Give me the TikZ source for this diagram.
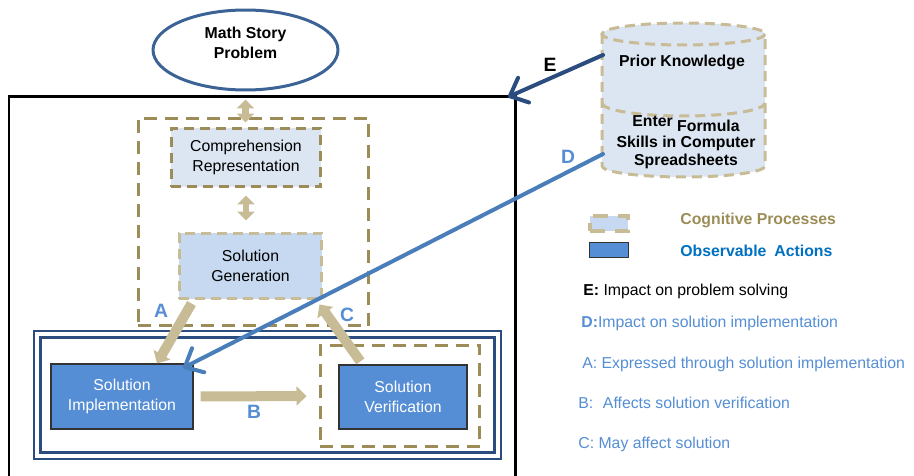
\documentclass[tikz,border=0pt]{standalone}
\usepackage{fontspec}
\setmainfont{Liberation Sans}
\usetikzlibrary{shapes.geometric,arrows.meta}
\definecolor{tanDark}{HTML}{9C8D58}
\definecolor{tanLight}{HTML}{C8BC96}
\definecolor{paleBlue}{HTML}{DCE6F2}
\definecolor{genBlue}{HTML}{C6D9F1}
\definecolor{actBlue}{HTML}{558ED5}
\definecolor{navy}{HTML}{2B4C7E}
\definecolor{storyBlue}{HTML}{3C6396}
\definecolor{lineBlue}{HTML}{4A7EBB}
\definecolor{obsBlue}{HTML}{0070C0}

\begin{document}
\begin{tikzpicture}
[x=0.02cm,y=-0.02cm,
 font=\fontsize{9}{11.3}\selectfont,
 cogbox/.style={rectangle,draw=tanDark,line width=0.6mm,dash pattern=on 2.6mm off 1.6mm,inner sep=0pt},
 cogfill/.style={rectangle,fill=paleBlue,draw=tanDark,line width=0.6mm,dash pattern=on 2mm off 1.2mm,inner sep=0pt,align=center},
 genfill/.style={rectangle,fill=genBlue,draw=tanLight,line width=0.6mm,dash pattern=on 2mm off 1.2mm,inner sep=0pt,align=center},
 action/.style={rectangle,fill=actBlue,draw=black!80,line width=0.25mm,text=white,inner sep=0pt,align=center},
 cyl line/.style={draw=tanLight,line width=0.6mm,dash pattern=on 2mm off 1.2mm},
 tan arrow/.style={draw=tanLight,line width=2mm,-{Triangle[length=2mm,width=3.8mm]}},
 tan double/.style={draw=tanLight,line width=1.3mm,{Triangle[length=1.8mm,width=3.4mm]}-{Triangle[length=1.8mm,width=3.4mm]}},
 barb arrow/.style={line width=0.8mm,line cap=round,-{Straight Barb[length=3mm,width=5.4mm,round]}},
 letter/.style={font=\fontsize{11}{13}\selectfont\bfseries,text=actBlue},
 legend/.style={anchor=west,inner sep=0pt,text=actBlue}]
\useasboundingbox (0,0) rectangle (914,476);
\node[ellipse,draw=storyBlue,line width=0.6mm,minimum width=3.7cm,minimum height=1.6cm] (story) at (245.5,50) {};
\node[align=center,font=\fontsize{9}{11.3}\selectfont\bfseries] (storytxt) at (245.5,42.5) {Math Story\\Problem};
\draw[line width=0.6mm] (9,490) -- (9,97) -- (515,97) -- (515,490);
\node[cogbox,minimum width=4.62cm,minimum height=4.16cm] (cog) at (253.5,222) {};
\node[cogfill,minimum width=3cm,minimum height=1.18cm] (comp) at (246,157.5) {Comprehension\\Representation};
\node[genfill,minimum width=2.86cm,minimum height=1.32cm] (gen) at (250.5,266) {Solution\\Generation};
\node[rectangle,draw=navy,line width=0.45mm,double=white,double distance=0.9mm,
      minimum width=9.22cm,minimum height=2.44cm] (act) at (267.5,395) {};
\node[cogbox,minimum width=3.2cm,minimum height=2.04cm] (verbox) at (400,396) {};
\node[action,minimum width=2.84cm,minimum height=1.3cm] (impl) at (122,396.5) {Solution\\Implementation};
\node[action,minimum width=2.56cm,minimum height=1.28cm] (verif) at (403,397) {Solution\\Verification};
\path[fill=paleBlue] (602,34) -- (602,166) arc[start angle=180,end angle=0,x radius=81.5,y radius=11]
      -- (765,34) arc[start angle=0,end angle=-180,x radius=81.5,y radius=11] -- cycle;
\draw[cyl line] (602,34) -- (602,166) arc[start angle=180,end angle=0,x radius=81.5,y radius=11] -- (765,34);
\draw[cyl line] (683.5,34) ellipse[x radius=81.5,y radius=11];
\draw[cyl line] (602,103) arc[start angle=180,end angle=0,x radius=81.5,y radius=13];
\node[font=\fontsize{9}{11.3}\selectfont\bfseries] (prior) at (682,62) {Prior Knowledge};
\node[font=\fontsize{9}{10}\selectfont\bfseries,align=center] (skills) at (686,142)
      {Enter \smash{\raisebox{-3pt}{Formula}}\\[2pt]Skills in Computer\\Spreadsheets};
\coordinate (kE) at (603,55);
\coordinate (kD) at (603,154);
\coordinate (frameE) at (508,97);
\coordinate (implD) at (183,368);
\path (story.south) edge[tan double,shorten <=1.6mm,shorten >=-1.2mm] (story.south |- cog.north)
      (comp.south)  edge[tan double,shorten <=1.4mm,shorten >=2.2mm] (comp.south |- gen.north)
      ([xshift=2.8mm,yshift=-0.6mm]gen.south west) edge[tan arrow] ([xshift=7mm]impl.north)
      ([xshift=4.4mm,yshift=0.6mm]verif.north west) edge[tan arrow] ([xshift=-0.8mm,yshift=-0.8mm]gen.south east)
      (impl.east)   edge[tan arrow,shorten <=1.4mm,shorten >=2.4mm] (verbox.west)
      (kE)          edge[barb arrow,draw=navy] (frameE)
      (kD)          edge[barb arrow,draw=lineBlue] (implD);
\node[letter] (la) at (161,311) {A};
\node[letter] (lb) at (254,412) {B};
\node[letter] (lc) at (347,315) {C};
\node[letter] (ld) at (568,157) {D};
\node[letter,text=black] (le) at (550,65) {E};
\node[rectangle,fill=genBlue,draw=tanLight,line width=0.8mm,dash pattern=on 3mm off 2mm,
      minimum width=0.78cm,minimum height=0.3cm] (cogkey) at (609,224) {};
\node[action,minimum width=0.78cm,minimum height=0.3cm] (obskey) at (609,250) {};
\node[legend,text=tanDark,font=\fontsize{9}{11.3}\selectfont\bfseries] (cogtxt) at (680,220) {Cognitive Processes};
\node[legend,text=obsBlue,font=\fontsize{9}{11.3}\selectfont\bfseries] (obstxt) at (680,251) {Observable\hspace{2pt} Actions};
\node[legend,text=black] (letxt) at (583,291) {\textbf{E:} Impact on problem solving};
\node[legend] (ldtxt) at (581,323) {\textbf{D:}Impact on solution implementation};
\node[legend] (latxt) at (582,364) {A: Expressed through solution implementation};
\node[legend] (lbtxt) at (578,403) {B:\hspace{3pt} Affects solution verification};
\node[legend] (lctxt) at (578,444) {C: May affect solution};
\end{tikzpicture}
\end{document}
